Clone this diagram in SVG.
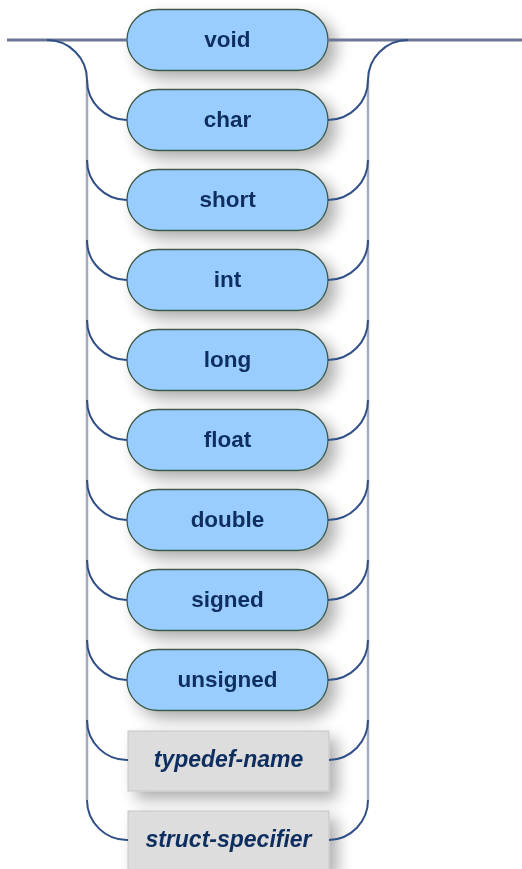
<svg xmlns="http://www.w3.org/2000/svg" width="522" height="869" viewBox="0 0 522 869">
<defs>
<filter id="sh" x="-30%" y="-50%" width="170%" height="220%">
<feGaussianBlur in="SourceAlpha" stdDeviation="8"/>
<feOffset dx="8" dy="8" result="b"/>
<feComponentTransfer><feFuncA type="linear" slope="0.32"/></feComponentTransfer>
<feMerge><feMergeNode/><feMergeNode in="SourceGraphic"/></feMerge>
</filter>
<style>
.term rect{fill:#99ccff;stroke:#3d5a45;stroke-width:1.3}
.nt rect{fill:#dddddd;stroke:#c6c6c6;stroke-width:1}
.term text{font-family:"Liberation Sans",Arial,sans-serif;font-weight:bold;font-size:22.5px;fill:#0e2f5f;text-anchor:middle}
.nt text{font-family:"Liberation Sans",Arial,sans-serif;font-weight:bold;font-style:italic;font-size:23px;fill:#0e2f5f;text-anchor:middle}
.main{fill:none;stroke:#6c7795;stroke-width:3}
.vert{fill:none;stroke:#a3aabd;stroke-width:2.5}
.curve{fill:none;stroke:#2f4f86;stroke-width:2}
</style>
</defs>
<g id="n-void" class="term" filter="url(#sh)"><rect x="127" y="9.5" width="201" height="61" rx="30.5"/><text x="227.5" y="47">void</text></g>
<g id="n-char" class="term" filter="url(#sh)"><rect x="127" y="89.5" width="201" height="61" rx="30.5"/><text x="227.5" y="127">char</text></g>
<g id="n-short" class="term" filter="url(#sh)"><rect x="127" y="169.5" width="201" height="61" rx="30.5"/><text x="227.5" y="207">short</text></g>
<g id="n-int" class="term" filter="url(#sh)"><rect x="127" y="249.5" width="201" height="61" rx="30.5"/><text x="227.5" y="287">int</text></g>
<g id="n-long" class="term" filter="url(#sh)"><rect x="127" y="329.5" width="201" height="61" rx="30.5"/><text x="227.5" y="367">long</text></g>
<g id="n-float" class="term" filter="url(#sh)"><rect x="127" y="409.5" width="201" height="61" rx="30.5"/><text x="227.5" y="447">float</text></g>
<g id="n-double" class="term" filter="url(#sh)"><rect x="127" y="489.5" width="201" height="61" rx="30.5"/><text x="227.5" y="527">double</text></g>
<g id="n-signed" class="term" filter="url(#sh)"><rect x="127" y="569.5" width="201" height="61" rx="30.5"/><text x="227.5" y="607">signed</text></g>
<g id="n-unsigned" class="term" filter="url(#sh)"><rect x="127" y="649.5" width="201" height="61" rx="30.5"/><text x="227.5" y="687">unsigned</text></g>
<g id="n-typedef-name" class="nt" filter="url(#sh)"><rect x="128" y="731" width="201" height="60"/><text x="228.5" y="767">typedef-name</text></g>
<g id="n-struct-specifier" class="nt" filter="url(#sh)"><rect x="128" y="811" width="201" height="60"/><text x="228.5" y="847">struct-specifier</text></g>
<g id="connectors">
<path class="main" d="M7,40 H127 M328,40 H522"/>
<path class="vert" d="M87,80 V800 M368,80 V800"/>
<path class="curve" d="M47,40 A40,40 0 0 1 87,80 M368,80 A40,40 0 0 1 408,40"/>
<path class="curve" d="M87,80 A40,40 0 0 0 127,120 M328,120 A40,40 0 0 0 368,80"/>
<path class="curve" d="M87,160 A40,40 0 0 0 127,200 M328,200 A40,40 0 0 0 368,160"/>
<path class="curve" d="M87,240 A40,40 0 0 0 127,280 M328,280 A40,40 0 0 0 368,240"/>
<path class="curve" d="M87,320 A40,40 0 0 0 127,360 M328,360 A40,40 0 0 0 368,320"/>
<path class="curve" d="M87,400 A40,40 0 0 0 127,440 M328,440 A40,40 0 0 0 368,400"/>
<path class="curve" d="M87,480 A40,40 0 0 0 127,520 M328,520 A40,40 0 0 0 368,480"/>
<path class="curve" d="M87,560 A40,40 0 0 0 127,600 M328,600 A40,40 0 0 0 368,560"/>
<path class="curve" d="M87,640 A40,40 0 0 0 127,680 M328,680 A40,40 0 0 0 368,640"/>
<path class="curve" d="M87,720 A40,40 0 0 0 128,760 M329,760 A40,40 0 0 0 368,720"/>
<path class="curve" d="M87,800 A40,40 0 0 0 128,840 M329,840 A40,40 0 0 0 368,800"/>
</g>
</svg>
